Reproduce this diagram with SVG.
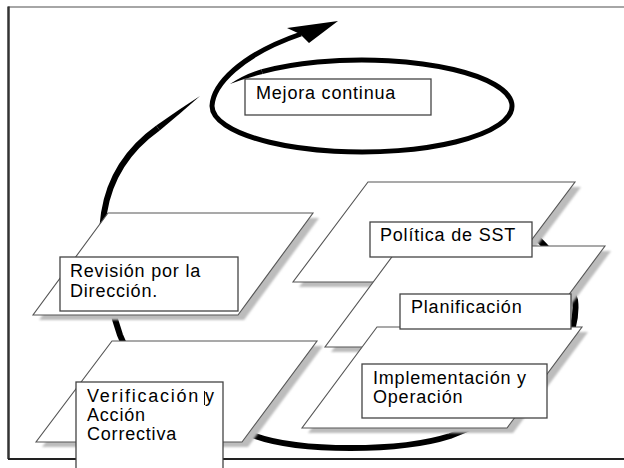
<svg xmlns="http://www.w3.org/2000/svg" width="624" height="468" viewBox="0 0 624 468">
<defs>
<filter id="blur" x="-10%" y="-10%" width="120%" height="120%"><feGaussianBlur stdDeviation="1.2"/></filter>
<style>
.arc{fill:none;stroke:#000;stroke-width:6}
.loop{fill:none;stroke:#000;stroke-width:5}
.ink{fill:#000;stroke:none}
.shadow{fill:#bcbcbc;filter:url(#blur)}
.plane{fill:#fff;stroke:#555;stroke-width:1.1;stroke-linejoin:miter}
.box{fill:#fff;stroke:#444;stroke-width:1.3}
.lbl{font-family:"Liberation Sans",Arial,sans-serif;font-size:18px;letter-spacing:0.8px;fill:#000}
</style>
</defs>
<rect width="624" height="468" fill="#fff"/>
<g id="frame">
<line x1="8" y1="7" x2="624" y2="7" stroke="#888" stroke-width="1.5"/>
<line x1="8.5" y1="6.5" x2="8.5" y2="459" stroke="#333" stroke-width="2.5"/>
<line x1="8" y1="459" x2="624" y2="459" stroke="#222" stroke-width="2"/>
</g>
<g id="connectors">
<path class="arc" d="M500,212 C530,228 562,255 575,300 C579,330 560,395 450,436 C400,452 300,452 255,436 C190,414 135,375 120,335 C108,300 98,250 104,213 C110,175 130,148 158,128"/>
<path class="ink" d="M156.3,125.6 Q178,110 200,96 Q181,113 159.7,130.4 Z"/>
<path class="ink" d="M230,84 Q245,74 261.3,69.3 L262.7,74.1 Q246,78 230,84 Z"/>
<path class="loop" d="M262,71.7 A150,46 0 1,1 212,106 C213,85 240,55 301,34"/>
<path class="ink" d="M338,21 L287,28 L300,34 L309,43 Z"/>
</g>
<g id="planes">
<g id="plane-revision"><polygon class="shadow" points="114,218 319,218 244,320 39,320"/><polygon class="plane" points="108,213 313,213 238,315 33,315"/></g>
<g id="plane-verificacion"><polygon class="shadow" points="118,346 323,346 248,447 42,447"/><polygon class="plane" points="112,341 317,341 242,442 36,442"/></g>
<g id="plane-politica"><polygon class="shadow" points="374,187 581,187 506,287 299,287"/><polygon class="plane" points="368,182 575,182 500,282 293,282"/></g>
<g id="plane-planificacion"><polygon class="shadow" points="406,251 611,251 536,352 331,352"/><polygon class="plane" points="400,246 605,246 530,347 325,347"/></g>
<g id="plane-implementacion"><polygon class="shadow" points="383,332 588,332 513,433 308,433"/><polygon class="plane" points="377,327 582,327 507,428 302,428"/></g>
</g>
<g id="node-mejora"><rect class="box" x="245" y="79" width="186" height="36"/><text class="lbl" x="256" y="99">Mejora continua</text></g>
<g id="node-politica"><rect class="box" x="370" y="222" width="162" height="35"/><text class="lbl" x="380" y="241">Política de SST</text></g>
<g id="node-revision"><rect class="box" x="60" y="257" width="178" height="54"/><text class="lbl" x="70" y="277">Revisión por la</text><text class="lbl" x="70" y="297">Dirección.</text></g>
<g id="node-planificacion"><rect class="box" x="400" y="294" width="171" height="35"/><text class="lbl" x="411" y="313">Planificación</text></g>
<g id="node-implementacion"><rect class="box" x="362" y="364" width="185" height="54"/><text class="lbl" x="373" y="384">Implementación y</text><text class="lbl" x="373" y="403">Operación</text></g>
<g id="node-verificacion"><rect class="box" x="76" y="382" width="147" height="100"/><text class="lbl" x="87" y="402"><tspan textLength="112" lengthAdjust="spacing">Verificación</tspan><tspan x="205">y</tspan></text><text class="lbl" x="87" y="421">Acción</text><text class="lbl" x="87" y="440">Correctiva</text><line x1="204.5" y1="391" x2="204.5" y2="405" stroke="#111" stroke-width="1"/></g>
</svg>
